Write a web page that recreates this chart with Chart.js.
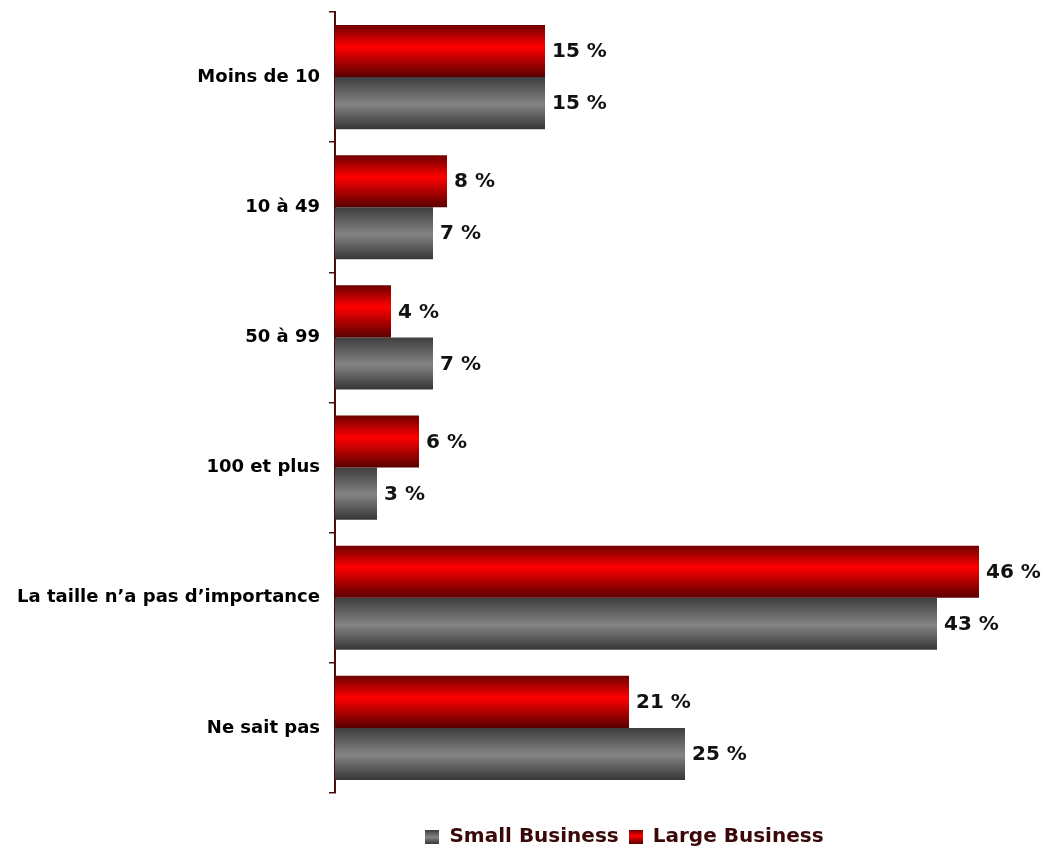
<!DOCTYPE html>
<html lang="fr">
<head>
<meta charset="utf-8">
<title>Taille d'entreprise</title>
<script src="https://cdn.jsdelivr.net/npm/chart.js@4/dist/chart.umd.min.js"></script>
<style>
  html, body { margin: 0; padding: 0; background: #fff; }
  #wrap { position: relative; width: 1044px; height: 850px; }
</style>
</head>
<body>
<div id="wrap"><canvas id="chart"></canvas></div>
<script>
// ── Data ────────────────────────────────────────────────────────────────────

const categories = [
  "Moins de 10",
  "10 à 49",
  "50 à 99",
  "100 et plus",
  "La taille n’a pas d’importance",
  "Ne sait pas",
];
const largeBusiness = [15, 8, 4, 6, 46, 21];
const smallBusiness = [15, 7, 7, 3, 43, 25];
const seriesNames = ["Large Business", "Small Business"];

const FONT = "'DejaVu Sans', Verdana, sans-serif";
const MAROON = "#4a0d0d";
const CAT_PCT = 0.8;

// Bars are shaded top-to-bottom: dark edge, light band, dark edge
const SHADES = {
  red:  [[0, "#6e0000"], [0.42, "#ff0000"], [1, "#580000"]],
  grey: [[0, "#3e3e3e"], [0.52, "#848484"], [1, "#363636"]],
};

function shade(ctx2d, y0, y1, stops) {
  const g = ctx2d.createLinearGradient(0, y0, 0, y1);
  stops.forEach(([p, c]) => g.addColorStop(p, c));
  return g;
}

// Gradient for one bar, placed from the category scale
function barFill(stops, slot) {
  return ctx => {
    const chart = ctx.chart;
    const y = chart.scales.y;
    if (!y || ctx.type !== "data") return stops[1][1];
    const band = (y.bottom - y.top) / categories.length;
    const half = band * CAT_PCT / 2;
    const c = y.getPixelForValue(ctx.dataIndex);
    const top = slot === 0 ? c - half : c;
    return shade(chart.ctx, top, top + half, stops);
  };
}

// Small square swatch for the legend
function swatch(stops) {
  const c = document.createElement("canvas");
  c.width = 14; c.height = 14;
  const x = c.getContext("2d");
  x.fillStyle = shade(x, 0, 14, stops);
  x.fillRect(0, 0, 14, 14);
  return c;
}

// ── Plugins ─────────────────────────────────────────────────────────────────

const valueLabels = {
  id: "valueLabels",
  afterDatasetsDraw(chart) {
    const ctx = chart.ctx;
    ctx.save();
    ctx.font = `bold 20px ${FONT}`;
    ctx.fillStyle = "#111";
    ctx.textAlign = "left";
    ctx.textBaseline = "middle";
    chart.data.datasets.forEach((ds, di) => {
      chart.getDatasetMeta(di).data.forEach((bar, i) => {
        ctx.fillText(`${ds.data[i]} %`, bar.x + 7, bar.y + 1);
      });
    });
    ctx.restore();
  }
};

// Nudge the legend box under the plot
const legendShift = {
  id: "legendShift",
  afterLayout(chart, args, opts) {
    const lg = chart.legend;
    if (!lg) return;
    lg.left += opts.dx; lg.right += opts.dx;
    lg.top += opts.dy; lg.bottom += opts.dy;
  }
};

// ── Chart ───────────────────────────────────────────────────────────────────

new Chart(document.getElementById("chart"), {
  type: "bar",
  data: {
    labels: categories,
    datasets: [
      {
        label: seriesNames[0],
        data: largeBusiness,
        backgroundColor: barFill(SHADES.red, 0),
        legendSwatch: swatch(SHADES.red),
      },
      {
        label: seriesNames[1],
        data: smallBusiness,
        backgroundColor: barFill(SHADES.grey, 1),
        legendSwatch: swatch(SHADES.grey),
      },
    ]
  },
  options: {
    indexAxis: "y",
    responsive: true,
    maintainAspectRatio: false,
    animation: false,
    categoryPercentage: CAT_PCT,
    barPercentage: 1.0,
    borderWidth: 0,
    layout: { padding: { top: 12, right: 9, bottom: 17, left: 0 } },
    plugins: {
      tooltip: { enabled: false },
      legendShift: { dx: 107, dy: 24 },
      legend: {
        position: "bottom",
        reverse: true,
        labels: {
          usePointStyle: true,
          boxWidth: 14,
          boxHeight: 14,
          padding: 10,
          color: "#3a0808",
          font: { family: FONT, size: 20, weight: "bold" },
          generateLabels: chart => chart.data.datasets.map((ds, i) => ({
            text: ds.label,
            pointStyle: ds.legendSwatch,
            fontColor: "#3a0808",
            lineWidth: 0,
            strokeStyle: "transparent",
            datasetIndex: i,
          })),
        }
      }
    },
    scales: {
      x: {
        display: false,
        min: 0,
        max: 50,
      },
      y: {
        afterFit: s => {
          s.width = 335;
          s.paddingTop = 0;
          s.paddingBottom = 0;
        },
        border: { display: true, color: MAROON, width: 2 },
        grid: {
          offset: true,
          drawOnChartArea: false,
          tickLength: 6,
          color: MAROON,
          lineWidth: 1.5,
        },
        ticks: {
          color: "#000",
          padding: 9,
          font: { family: FONT, size: 18, weight: "bold" },
        }
      }
    }
  },
  plugins: [valueLabels, legendShift]
});
</script>
</body>
</html>
